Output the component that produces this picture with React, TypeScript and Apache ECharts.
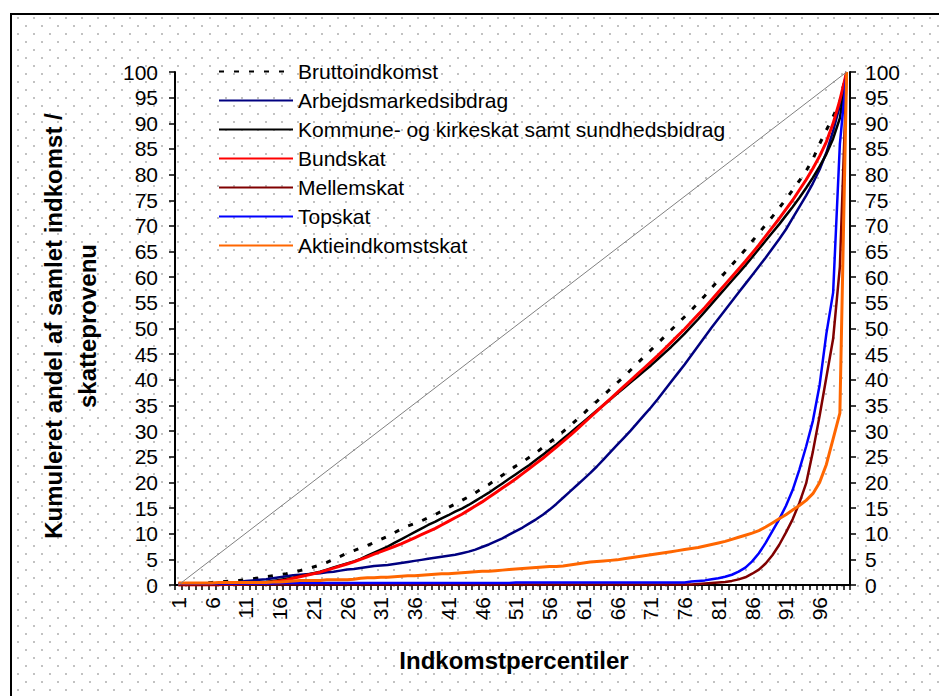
import React, { useEffect, useRef } from "react";
import * as echarts from "echarts";

const percentiles = [
  "1","2","3","4","5","6","7","8","9","10",
  "11","12","13","14","15","16","17","18","19","20",
  "21","22","23","24","25","26","27","28","29","30",
  "31","32","33","34","35","36","37","38","39","40",
  "41","42","43","44","45","46","47","48","49","50",
  "51","52","53","54","55","56","57","58","59","60",
  "61","62","63","64","65","66","67","68","69","70",
  "71","72","73","74","75","76","77","78","79","80",
  "81","82","83","84","85","86","87","88","89","90",
  "91","92","93","94","95","96","97","98","99","100",
];

const bruttoindkomst = [
  0.0, 0.1, 0.2, 0.3, 0.4, 0.5, 0.6, 0.7, 0.8, 0.9,
  1.0, 1.2, 1.4, 1.6, 1.8, 2.0, 2.2, 2.5, 2.8, 3.1,
  3.5, 3.9, 4.4, 5.0, 5.6, 6.2, 6.7, 7.2, 7.7, 8.3,
  8.9, 9.5, 10.2, 10.9, 11.5, 12.0, 12.5, 13.1, 13.7, 14.4,
  15.1, 15.8, 16.5, 17.2, 18.0, 18.8, 19.6, 20.5, 21.4, 22.3,
  23.2, 24.0, 24.9, 25.8, 26.8, 27.8, 28.8, 29.9, 31.0, 32.2,
  33.4, 34.6, 35.8, 37.0, 38.2, 39.4, 40.6, 41.9, 43.2, 44.5,
  45.8, 47.1, 48.4, 49.7, 51.0, 52.3, 53.6, 55.0, 56.4, 57.9,
  59.4, 60.9, 62.4, 63.9, 65.4, 67.0, 68.6, 70.2, 71.8, 73.5,
  75.2, 77.0, 78.8, 80.7, 83.0, 86.0, 88.7, 91.3, 94.3, 100,
];

const arbejdsmarkedsbidrag = [
  0.1, 0.1, 0.2, 0.2, 0.3, 0.3, 0.4, 0.4, 0.5, 0.6,
  0.8, 0.9, 1.0, 1.1, 1.3, 1.5, 1.7, 1.9, 2.0, 2.1,
  2.2, 2.3, 2.5, 2.6, 2.8, 3.0, 3.1, 3.3, 3.5, 3.7,
  3.8, 3.9, 4.1, 4.3, 4.5, 4.7, 4.9, 5.1, 5.3, 5.5,
  5.7, 5.9, 6.2, 6.5, 6.9, 7.4, 7.9, 8.5, 9.1, 9.8,
  10.5, 11.2, 12.0, 12.8, 13.7, 14.7, 15.8, 17.0, 18.2, 19.4,
  20.6, 21.8, 23.1, 24.5, 25.9, 27.3, 28.7, 30.1, 31.6, 33.1,
  34.6, 36.2, 37.9, 39.6, 41.3, 43.0, 44.8, 46.6, 48.4, 50.2,
  51.9, 53.6, 55.3, 57.0, 58.7, 60.4, 62.1, 63.8, 65.6, 67.4,
  69.3, 71.5, 73.7, 75.9, 78.3, 81.0, 84.3, 88.5, 93.5, 100,
];

const kommuneskat = [
  0.0, 0.0, 0.0, 0.0, 0.0, 0.1, 0.1, 0.1, 0.2, 0.2,
  0.3, 0.4, 0.5, 0.6, 0.8, 1.0, 1.2, 1.4, 1.7, 2.0,
  2.3, 2.6, 3.0, 3.4, 3.8, 4.2, 4.6, 5.1, 5.7, 6.3,
  6.9, 7.5, 8.2, 8.9, 9.6, 10.3, 11.0, 11.7, 12.3, 13.0,
  13.6, 14.3, 14.9, 15.6, 16.4, 17.2, 18.0, 18.9, 19.8, 20.7,
  21.6, 22.5, 23.4, 24.4, 25.4, 26.4, 27.4, 28.5, 29.6, 30.7,
  31.8, 32.9, 34.0, 35.1, 36.2, 37.3, 38.4, 39.5, 40.6, 41.7,
  42.8, 44.0, 45.2, 46.4, 47.7, 49.0, 50.4, 51.8, 53.3, 54.8,
  56.3, 57.8, 59.3, 60.8, 62.3, 63.9, 65.5, 67.1, 68.7, 70.3,
  72.0, 73.7, 75.5, 77.4, 79.4, 81.6, 84.0, 87.0, 91.0, 100,
];

const bundskat = [
  0.0, 0.0, 0.0, 0.0, 0.0, 0.0, 0.0, 0.1, 0.1, 0.1,
  0.2, 0.3, 0.4, 0.5, 0.6, 0.8, 1.0, 1.3, 1.6, 1.9,
  2.2, 2.5, 2.9, 3.3, 3.7, 4.1, 4.5, 5.0, 5.5, 6.0,
  6.5, 7.0, 7.5, 8.0, 8.6, 9.2, 9.8, 10.4, 11.0, 11.7,
  12.4, 13.1, 13.8, 14.6, 15.4, 16.2, 17.1, 18.0, 18.9, 19.8,
  20.7, 21.7, 22.7, 23.7, 24.7, 25.8, 26.9, 28.0, 29.1, 30.3,
  31.5, 32.7, 33.9, 35.1, 36.3, 37.5, 38.7, 39.9, 41.1, 42.3,
  43.5, 44.7, 46.0, 47.3, 48.6, 49.9, 51.3, 52.7, 54.1, 55.6,
  57.1, 58.6, 60.1, 61.6, 63.1, 64.7, 66.3, 68.0, 69.7, 71.4,
  73.2, 75.0, 77.0, 79.0, 81.2, 83.6, 86.4, 90.0, 94.5, 100,
];

const mellemskat = [
  0.1, 0.1, 0.1, 0.1, 0.1, 0.1, 0.1, 0.1, 0.1, 0.1,
  0.1, 0.1, 0.1, 0.1, 0.1, 0.1, 0.1, 0.1, 0.1, 0.1,
  0.1, 0.1, 0.1, 0.1, 0.1, 0.1, 0.1, 0.1, 0.1, 0.1,
  0.1, 0.1, 0.1, 0.1, 0.1, 0.1, 0.1, 0.1, 0.1, 0.1,
  0.1, 0.1, 0.1, 0.1, 0.1, 0.1, 0.1, 0.1, 0.1, 0.1,
  0.1, 0.1, 0.1, 0.1, 0.1, 0.1, 0.1, 0.1, 0.1, 0.1,
  0.1, 0.1, 0.1, 0.1, 0.1, 0.1, 0.1, 0.1, 0.1, 0.1,
  0.1, 0.1, 0.1, 0.1, 0.1, 0.1, 0.1, 0.2, 0.3, 0.4,
  0.5, 0.6, 0.8, 1.1, 1.5, 2.2, 3.0, 4.2, 5.8, 7.8,
  10.2, 12.8, 16.0, 19.8, 26.0, 33.0, 40.5, 48.0, 62.0, 100,
];

const topskat = [
  0.3, 0.3, 0.3, 0.3, 0.3, 0.3, 0.3, 0.3, 0.3, 0.3,
  0.3, 0.3, 0.3, 0.3, 0.3, 0.4, 0.4, 0.4, 0.4, 0.4,
  0.4, 0.4, 0.4, 0.4, 0.4, 0.4, 0.4, 0.4, 0.4, 0.4,
  0.4, 0.4, 0.4, 0.4, 0.4, 0.4, 0.4, 0.4, 0.4, 0.4,
  0.4, 0.4, 0.4, 0.4, 0.4, 0.4, 0.4, 0.4, 0.4, 0.4,
  0.5, 0.5, 0.5, 0.5, 0.5, 0.5, 0.5, 0.5, 0.5, 0.5,
  0.5, 0.5, 0.5, 0.5, 0.5, 0.5, 0.5, 0.5, 0.5, 0.5,
  0.5, 0.5, 0.5, 0.5, 0.5, 0.5, 0.7, 0.8, 0.9, 1.1,
  1.3, 1.6, 2.0, 2.6, 3.4, 4.6, 6.2, 8.2, 10.5, 12.8,
  15.4, 18.5, 22.5, 27.0, 32.0, 39.0, 49.0, 57.0, 86.0, 100,
];

const aktieindkomstskat = [
  0.4, 0.4, 0.4, 0.4, 0.4, 0.4, 0.5, 0.5, 0.5, 0.5,
  0.5, 0.5, 0.5, 0.5, 0.6, 0.6, 0.7, 0.8, 0.9, 0.9,
  0.9, 0.9, 1.0, 1.0, 1.0, 1.0, 1.1, 1.3, 1.4, 1.4,
  1.5, 1.5, 1.6, 1.7, 1.8, 1.8, 1.9, 2.0, 2.1, 2.2,
  2.2, 2.3, 2.4, 2.5, 2.6, 2.7, 2.7, 2.8, 2.9, 3.0,
  3.1, 3.2, 3.3, 3.4, 3.5, 3.6, 3.6, 3.7, 3.9, 4.1,
  4.3, 4.5, 4.6, 4.7, 4.8, 4.9, 5.1, 5.3, 5.5, 5.7,
  5.9, 6.1, 6.3, 6.5, 6.7, 6.9, 7.1, 7.3, 7.6, 7.9,
  8.2, 8.5, 8.9, 9.3, 9.7, 10.1, 10.6, 11.3, 12.1, 12.9,
  13.7, 14.6, 15.5, 16.5, 17.8, 20.0, 23.5, 28.5, 33.5, 100,
];

const seriesNames = [
  "Bruttoindkomst",
  "Arbejdsmarkedsibdrag",
  "Kommune- og kirkeskat samt sundhedsbidrag",
  "Bundskat",
  "Mellemskat",
  "Topskat",
  "Aktieindkomstskat",
];

const FONT = "'Liberation Sans', Arial, sans-serif";

export default function App() {
  const ref = useRef<HTMLDivElement>(null);

  useEffect(() => {
    if (!ref.current) return;
    const chart = echarts.init(ref.current, undefined, { renderer: "svg" });

    const mk = (name: string, data: number[], color: string, width: number, type: any = "solid", extra: any = {}) => ({
      name,
      type: "line",
      data,
      symbol: "none",
      showSymbol: false,
      smooth: false,
      color,
      lineStyle: { color, width, type },
      emphasis: { disabled: true },
      ...extra,
    });

    const yAxisCommon = {
      type: "value",
      min: 0,
      max: 100,
      interval: 5,
      splitLine: { show: false },
      axisLine: { show: true, lineStyle: { color: "#000", width: 2 } },
      axisTick: { show: true, length: 6, lineStyle: { color: "#000", width: 1.5 } },
    };

    chart.setOption({
      animation: false,
      backgroundColor: "transparent",
      textStyle: { fontFamily: FONT },
      grid: { left: 175, right: 89, top: 72, bottom: 111, containLabel: false },
      legend: {
        show: true,
        orient: "vertical",
        left: 218,
        top: 61,
        padding: 0,
        itemWidth: 74,
        itemHeight: 14,
        itemGap: 8,
        selectedMode: false,
        data: seriesNames,
        itemStyle: { color: "rgba(0,0,0,0)", borderColor: "rgba(0,0,0,0)", borderWidth: 0 },
        textStyle: { fontSize: 21, color: "#000", fontFamily: FONT, lineHeight: 21 },
      },
      xAxis: {
        type: "category",
        data: percentiles,
        boundaryGap: true,
        axisLine: { show: true, lineStyle: { color: "#000", width: 2 } },
        axisTick: { show: true, interval: 0, length: 5, lineStyle: { color: "#000", width: 1.5 } },
        axisLabel: { interval: 4, rotate: 90, fontSize: 21, color: "#000", margin: 12, fontFamily: FONT },
        splitLine: { show: false },
      },
      yAxis: [
        {
          ...yAxisCommon,
          position: "left",
          axisLabel: { fontSize: 21, color: "#000", margin: 17, fontFamily: FONT },
        },
        {
          ...yAxisCommon,
          position: "right",
          axisLabel: { fontSize: 21, color: "#000", margin: 15, fontFamily: FONT },
        },
      ],
      series: [
        mk(seriesNames[0], bruttoindkomst, "#000000", 3, [5, 10], {
          markLine: {
            silent: true,
            symbol: ["none", "none"],
            label: { show: false },
            lineStyle: { color: "#808080", width: 1, type: "solid" },
            data: [[{ coord: [percentiles[0], 0] }, { coord: [percentiles[percentiles.length - 1], 100] }]],
          },
        }),
        mk(seriesNames[1], arbejdsmarkedsbidrag, "#000080", 2.5),
        mk(seriesNames[2], kommuneskat, "#000000", 2.5),
        mk(seriesNames[3], bundskat, "#FF0000", 3),
        mk(seriesNames[4], mellemskat, "#800000", 2.5),
        mk(seriesNames[5], topskat, "#0000FF", 2.5),
        mk(seriesNames[6], aktieindkomstskat, "#FF6600", 3),
      ],
      graphic: [
        {
          type: "text",
          x: 514,
          y: 660,
          silent: true,
          style: {
            text: "Indkomstpercentiler",
            fill: "#000",
            font: `bold 24px ${FONT}`,
            textAlign: "center",
            textVerticalAlign: "middle",
          },
        },
        {
          type: "text",
          x: 70,
          y: 326,
          rotation: Math.PI / 2,
          silent: true,
          style: {
            text: "Kumuleret andel af samlet indkomst /\nskatteprovenu",
            fill: "#000",
            font: `bold 24px ${FONT}`,
            lineHeight: 34,
            textAlign: "center",
            textVerticalAlign: "middle",
          },
        },
      ],
    });

    return () => chart.dispose();
  }, []);

  const dot = "radial-gradient(circle, #c2c2c2 0.9px, rgba(255,255,255,0) 1.3px)";

  return (
    <div style={{ position: "fixed", left: 0, top: 0, width: 939, height: 696, background: "#fff", overflow: "hidden" }}>
      <div
        style={{
          position: "absolute",
          left: 10,
          top: 13,
          width: 960,
          height: 720,
          border: "2px solid #000",
          backgroundColor: "#fff",
          backgroundImage: `${dot}, ${dot}`,
          backgroundSize: "16px 16px, 16px 16px",
          backgroundPosition: "-2px -5px, 6px 3px",
        }}
      />
      <div ref={ref} style={{ position: "absolute", left: 0, top: 0, width: 939, height: 696 }} />
    </div>
  );
}
